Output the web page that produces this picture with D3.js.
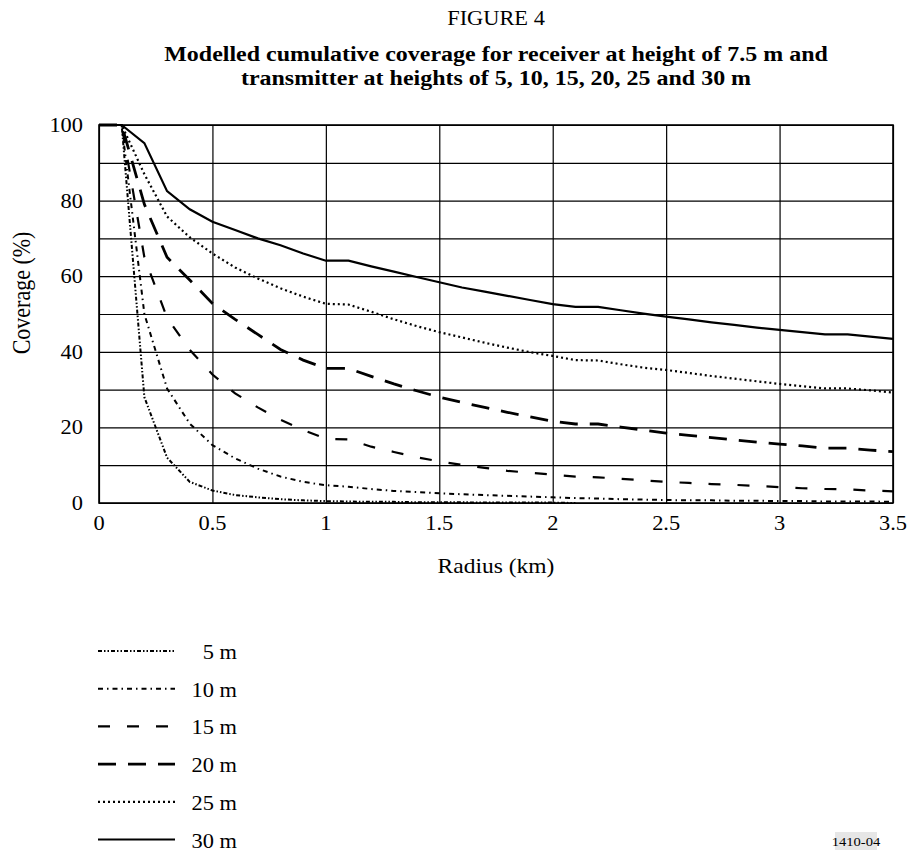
<!DOCTYPE html>
<html>
<head>
<meta charset="utf-8">
<script src="https://cdn.jsdelivr.net/npm/d3@7"></script>
<style>
  body { margin: 0; background: #fff; }
  text { font-family: "Liberation Serif", "Times New Roman", serif; fill: #000; }
</style>
</head>
<body>
<script>
// radius (km) where coverage was sampled
const radius = [0, 0.1, 0.2, 0.3, 0.4, 0.5, 0.6, 0.7, 0.8, 0.9, 1.0, 1.1, 1.2, 1.3, 1.4, 1.5, 1.6, 1.7,
  1.8, 1.9, 2.0, 2.1, 2.2, 2.3, 2.4, 2.5, 2.6, 2.7, 2.8, 2.9, 3.0, 3.1, 3.2, 3.3, 3.4, 3.5];

// coverage (%) for each transmitter height
const cov5 = [100, 100, 28, 12, 5.6, 3.3, 2.1, 1.5, 1, 0.7, 0.5, 0.4, 0.3, 0.3, 0.2, 0.2, 0.2, 0.1,
  0.1, 0.1, 0.1, 0];
const cov10 = [100, 100, 50, 30.3, 21, 15.3, 11.8, 9.1, 7, 5.6, 4.7, 4.3, 3.7, 3.2, 2.9, 2.6, 2.3, 2.1,
  1.9, 1.7, 1.5, 1.3, 1.2, 1, 0.9, 0.8, 0.7, 0.7, 0.6, 0.6, 0.5, 0.5, 0.4, 0.4, 0.4, 0.3];
const cov15 = [100, 100, 65, 49, 40.5, 34, 29, 25.3, 22, 19.3, 17, 16.8, 14.9, 13.5, 12.1, 11, 10.1, 9.3,
  8.5, 8, 7.5, 7, 6.8, 6.4, 6, 5.6, 5.3, 5, 4.8, 4.5, 4.2, 3.9, 3.7, 3.6, 3.3, 3.1];
const cov20 = [100, 100, 79, 65, 59, 52.8, 48.6, 44.6, 40.6, 37.8, 35.6, 35.6, 33.5, 31.5, 29.7, 28, 26.6, 25.3,
  24, 22.8, 21.6, 20.9, 20.9, 20.1, 19.3, 18.5, 17.9, 17.3, 16.7, 16.1, 15.6, 15.1, 14.5, 14.5, 14, 13.6];
const cov25 = [100, 100, 87, 75.8, 70.3, 66, 62.3, 59.4, 56.8, 54.6, 52.7, 52.5, 50.6, 48.6, 46.8, 45.2, 43.8, 42.4,
  41.1, 39.9, 38.9, 37.8, 37.7, 36.7, 35.8, 35.2, 34.4, 33.6, 32.9, 32.2, 31.5, 30.9, 30.3, 30.3, 29.8, 29.2];
const cov30 = [100, 100, 95.2, 82.5, 77.7, 74.4, 72.2, 70, 68.2, 66, 64.1, 64.1, 62.6, 61.2, 59.8, 58.4, 57, 55.9,
  54.8, 53.7, 52.6, 51.9, 51.9, 51, 50.1, 49.3, 48.6, 47.8, 47.1, 46.4, 45.8, 45.2, 44.6, 44.6, 44, 43.4];

const seriesNames = ["5 m", "10 m", "15 m", "20 m", "25 m", "30 m"];
const seriesValues = [cov5, cov10, cov15, cov20, cov25, cov30];

const xTicks = [0, 0.5, 1, 1.5, 2, 2.5, 3, 3.5];
const xTickLabels = ["0", "0.5", "1", "1.5", "2", "2.5", "3", "3.5"];
const yGrid = [0, 10, 20, 30, 40, 50, 60, 70, 80, 90, 100];
const yTicks = [0, 20, 40, 60, 80, 100];

// line styles per series
const styles = {
  "5 m":  { dash: "4,2,1.5,2,1.5,2", width: 2 },
  "10 m": { dash: "5,4,1.5,4", width: 2 },
  "15 m": { dash: "12,17", width: 2.2 },
  "20 m": { dash: "18,12", width: 2.8 },
  "25 m": { dash: "2,3", width: 2.2 },
  "30 m": { dash: null, width: 2.2 }
};

const W = 908, H = 852;
const SX = 1.12; // source glyphs are a bit wider than Times

const svg = d3.select("body").append("svg")
  .attr("width", W)
  .attr("height", H);

function label(x, y, str, size, anchor, weight) {
  return svg.append("text")
    .attr("transform", `translate(${x},${y}) scale(${SX},1)`)
    .attr("text-anchor", anchor)
    .attr("font-size", size)
    .attr("font-weight", weight || "normal")
    .text(str);
}

const pLeft = 99, pRight = 893, pTop = 125, pBottom = 503;
const x = d3.scaleLinear().domain([0, 3.5]).range([pLeft, pRight]);
const y = d3.scaleLinear().domain([0, 100]).range([pBottom, pTop]);

// titles
label(496, 25, "FIGURE 4", 20, "middle");
label(496, 61, "Modelled cumulative coverage for receiver at height of 7.5 m and", 21.4, "middle", "bold");
label(496, 85, "transmitter at heights of 5, 10, 15, 20, 25 and 30 m", 21.4, "middle", "bold");

// grid
svg.append("g")
  .attr("transform", `translate(0,${pBottom})`)
  .call(d3.axisBottom(x).tickValues(xTicks).tickSize(-(pBottom - pTop)).tickFormat(""))
  .call(g => g.select(".domain").remove())
  .selectAll("line").attr("stroke", "#000").attr("stroke-width", 1.2);

svg.append("g")
  .attr("transform", `translate(${pLeft},0)`)
  .call(d3.axisLeft(y).tickValues(yGrid).tickSize(-(pRight - pLeft)).tickFormat(""))
  .call(g => g.select(".domain").remove())
  .selectAll("line").attr("stroke", "#000").attr("stroke-width", 1.2);

// tick labels
xTicks.forEach((t, i) => label(x(t), 530, xTickLabels[i], 20, "middle"));
yTicks.forEach(t => label(83, y(t) + 7, String(t), 20, "end"));

// axis titles
label(496, 573, "Radius (km)", 21, "middle");
svg.append("text")
  .attr("transform", `translate(30,293) rotate(-90) scale(1,${SX})`)
  .attr("text-anchor", "middle")
  .attr("font-size", 22)
  .text("Coverage (%)");

// curves
const line = d3.line()
  .x((d, i) => x(radius[i]))
  .y(d => y(d));

seriesNames.forEach((name, k) => {
  svg.append("path")
    .datum(seriesValues[k])
    .attr("d", line)
    .attr("fill", "none")
    .attr("stroke", "#000")
    .attr("stroke-width", styles[name].width)
    .attr("stroke-dasharray", styles[name].dash);
});

// frame
svg.append("rect")
  .attr("x", pLeft).attr("y", pTop)
  .attr("width", pRight - pLeft).attr("height", pBottom - pTop)
  .attr("fill", "none")
  .attr("stroke", "#000")
  .attr("stroke-width", 1.6);

// legend
seriesNames.forEach((name, k) => {
  const ly = 651 + k * 37.7;
  svg.append("line")
    .attr("x1", 98).attr("x2", 175)
    .attr("y1", ly).attr("y2", ly)
    .attr("stroke", "#000")
    .attr("stroke-width", styles[name].width)
    .attr("stroke-dasharray", styles[name].dash);
  label(237, ly + 8, name, 20, "end");
});

// figure id
svg.append("rect")
  .attr("x", 835).attr("y", 832)
  .attr("width", 42).attr("height", 18)
  .attr("fill", "#e6e6e6");
label(856, 846, "1410-04", 13, "middle");
</script>
</body>
</html>
